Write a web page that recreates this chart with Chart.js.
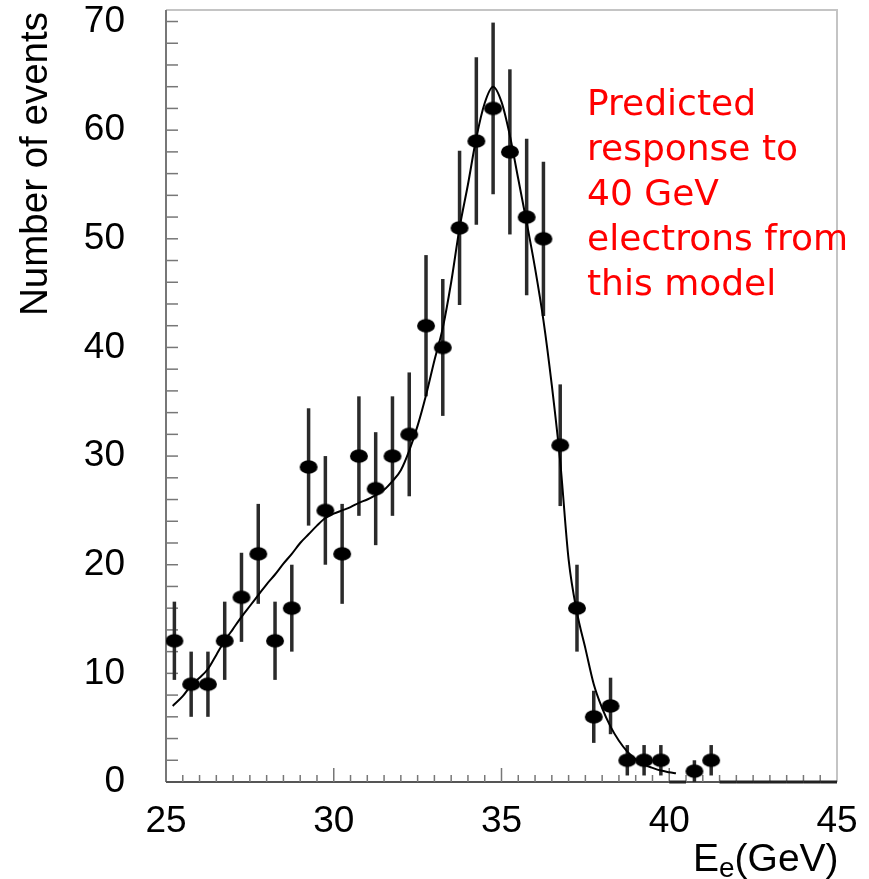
<!DOCTYPE html>
<html lang="en">
<head>
<meta charset="UTF-8">
<title>Number of events</title>
<script src="https://cdn.jsdelivr.net/npm/chart.js"></script>
<style>
  html, body { margin: 0; padding: 0; background: #fff; }
</style>
</head>
<body>
<canvas id="grafico" width="869" height="879"></canvas>
<script>
// medidas (centro do bin em GeV) e numero de eventos
const energias = [25.25, 25.75, 26.25, 26.75, 27.25, 27.75, 28.25, 28.75, 29.25, 29.75,
                  30.25, 30.75, 31.25, 31.75, 32.25, 32.75, 33.25, 33.75, 34.25, 34.75,
                  35.25, 35.75, 36.25, 36.75, 37.25, 37.75, 38.25, 38.75, 39.25, 39.75,
                  40.75, 41.25];
const eventos = [13, 9, 9, 13, 17, 21, 13, 16, 29, 25,
                 21, 30, 27, 30, 32, 42, 40, 51, 59, 62,
                 58, 52, 50, 31, 16, 6, 7, 2, 2, 2,
                 1, 2];
const erros = [3.6, 3.0, 3.0, 3.6, 4.1, 4.6, 3.6, 4.0, 5.4, 5.0,
               4.6, 5.5, 5.2, 5.5, 5.7, 6.5, 6.3, 7.1, 7.7, 7.9,
               7.6, 7.2, 7.1, 5.6, 4.0, 2.4, 2.6, 1.4, 1.4, 1.4,
               1.0, 1.4];
// bins vazios (desenhados como traco em zero)
const binsVazios = [40.25, 41.75, 42.25, 42.75, 43.25, 43.75, 44.25, 44.75];

// curva do modelo
const curvaX = [25.2, 25.5, 25.75, 26.0, 26.25, 26.5, 26.75, 27.0, 27.25, 27.5,
                27.75, 28.0, 28.25, 28.5, 28.75, 29.0, 29.25, 29.5, 29.75, 30.0,
                30.25, 30.5, 30.75, 31.0, 31.25, 31.5, 31.75, 32.0, 32.25, 32.5,
                32.75, 33.0, 33.25, 33.5, 33.75, 34.0, 34.25, 34.5, 34.75, 35.0,
                35.25, 35.5, 35.75, 36.0, 36.25, 36.5, 36.75, 37.0, 37.25, 37.5,
                37.75, 38.0, 38.25, 38.5, 38.75, 39.0, 39.25, 39.5, 39.75, 40.0, 40.2];
const curvaY = [7.0, 7.9, 8.9, 9.6, 10.4, 11.7, 13.0, 14.1, 15.2, 16.2,
                17.2, 18.2, 19.1, 20.1, 21.0, 22.0, 22.8, 23.6, 24.3, 24.7,
                25.0, 25.3, 25.7, 26.0, 26.4, 26.9, 27.7, 28.7, 30.5, 32.8,
                35.6, 38.8, 41.8, 46.0, 51.0, 55.0, 59.3, 62.5, 64.0, 62.6,
                59.5, 55.5, 51.5, 47.3, 42.5, 36.5, 29.5, 20.5, 15.6, 12.3,
                9.0, 6.8, 5.1, 3.8, 2.8, 2.1, 1.6, 1.3, 1.05, 0.9, 0.8];

const ticksX = [25, 30, 35, 40, 45];
const ticksY = [0, 10, 20, 30, 40, 50, 60, 70];

const textoModelo = ['Predicted', 'response to', '40 GeV', 'electrons from', 'this model'];

// marcador elipse
const marcador = document.createElement('canvas');
marcador.width = 20; marcador.height = 16;
(function () {
    const c = marcador.getContext('2d');
    c.fillStyle = '#000';
    c.beginPath();
    c.ellipse(10, 8, 9, 6.8, 0, 0, Math.PI * 2);
    c.fill();
})();

const pontos = energias.map((e, i) => ({ x: e, y: eventos[i] }));
const curva = curvaX.map((e, i) => ({ x: e, y: curvaY[i] }));

const moldura = {
    id: 'moldura',
    beforeDatasetsDraw(chart) {
        const ctx = chart.ctx;
        const a = chart.chartArea;
        const sx = chart.scales.x, sy = chart.scales.y;
        ctx.save();
        // borda clara em cima e direita
        ctx.strokeStyle = '#c4c4c4';
        ctx.lineWidth = 2;
        ctx.beginPath();
        ctx.moveTo(a.left, a.top); ctx.lineTo(a.right, a.top); ctx.lineTo(a.right, a.bottom);
        ctx.stroke();
        // eixos
        ctx.strokeStyle = '#777';
        ctx.beginPath();
        ctx.moveTo(a.left, a.top); ctx.lineTo(a.left, a.bottom);
        ctx.stroke();
        ctx.strokeStyle = '#555';
        ctx.beginPath();
        ctx.moveTo(a.left, a.bottom); ctx.lineTo(a.right, a.bottom);
        ctx.stroke();
        // ticks para dentro
        ctx.lineWidth = 1.5;
        ctx.strokeStyle = '#777';
        for (let v = 2; v <= 70; v += 2) {
            const py = sy.getPixelForValue(v);
            ctx.beginPath(); ctx.moveTo(a.left, py); ctx.lineTo(a.left + 12, py); ctx.stroke();
        }
        for (let v = 25.5; v < 45; v += 0.5) {
            const px = sx.getPixelForValue(v);
            const len = (v % 5 === 0) ? 14 : 7;
            ctx.beginPath(); ctx.moveTo(px, a.bottom); ctx.lineTo(px, a.bottom - len); ctx.stroke();
        }
        // bins vazios
        ctx.strokeStyle = '#222';
        ctx.lineWidth = 3;
        binsVazios.forEach(b => {
            const py = sy.getPixelForValue(0);
            ctx.beginPath();
            ctx.moveTo(sx.getPixelForValue(b - 0.25), py);
            ctx.lineTo(sx.getPixelForValue(b + 0.25), py);
            ctx.stroke();
        });
        // barras de erro
        ctx.strokeStyle = '#2a2a2a';
        ctx.lineWidth = 3.5;
        energias.forEach((e, i) => {
            const px = sx.getPixelForValue(e);
            ctx.beginPath();
            ctx.moveTo(px, sy.getPixelForValue(eventos[i] + erros[i]));
            ctx.lineTo(px, sy.getPixelForValue(Math.max(0, eventos[i] - erros[i])));
            ctx.stroke();
        });
        ctx.restore();
    },
    afterDraw(chart) {
        const ctx = chart.ctx;
        ctx.save();
        // titulo eixo y
        ctx.fillStyle = '#000';
        ctx.font = '38.5px "Liberation Sans", Arial, sans-serif';
        ctx.textAlign = 'center';
        ctx.textBaseline = 'alphabetic';
        ctx.translate(47, 164);
        ctx.rotate(-Math.PI / 2);
        ctx.fillText('Number of events', 0, 0);
        ctx.restore();

        // titulo eixo x
        ctx.save();
        ctx.fillStyle = '#000';
        ctx.textAlign = 'left';
        ctx.textBaseline = 'alphabetic';
        let x = 693;
        ctx.font = '39px "Liberation Sans", Arial, sans-serif';
        ctx.fillText('E', x, 871);
        x += ctx.measureText('E').width;
        ctx.font = '28px "Liberation Sans", Arial, sans-serif';
        ctx.fillText('e', x, 877);
        x += ctx.measureText('e').width;
        ctx.font = '39px "Liberation Sans", Arial, sans-serif';
        ctx.fillText('(GeV)', x, 871);

        // texto vermelho
        ctx.fillStyle = '#ff0000';
        ctx.font = '36px "DejaVu Sans", sans-serif';
        textoModelo.forEach((t, i) => {
            ctx.fillText(t, 587, 115 + i * 45);
        });
        ctx.restore();
    }
};

function semPadding(s) {
    s.paddingTop = 0; s.paddingBottom = 0; s.paddingLeft = 0; s.paddingRight = 0;
}

new Chart(document.getElementById('grafico'), {
    type: 'scatter',
    data: {
        datasets: [
            {
                label: 'dados',
                data: pontos,
                pointStyle: marcador,
                pointRadius: 9,
                showLine: false,
                order: 0
            },
            {
                label: 'modelo',
                data: curva,
                showLine: true,
                borderColor: '#000',
                borderWidth: 2,
                pointRadius: 0,
                cubicInterpolationMode: 'monotone',
                order: 1
            }
        ]
    },
    options: {
        responsive: false,
        animation: false,
        devicePixelRatio: 1,
        layout: { padding: { top: 9, right: 32, left: 0, bottom: 0 } },
        plugins: { legend: { display: false }, tooltip: { enabled: false } },
        scales: {
            x: {
                type: 'linear',
                min: 25, max: 45,
                afterFit: (s) => { s.height = 97; semPadding(s); },
                afterBuildTicks: (s) => { s.ticks = ticksX.map(v => ({ value: v })); },
                grid: { display: false, drawTicks: false },
                border: { display: false },
                ticks: {
                    padding: 18,
                    maxRotation: 0,
                    color: '#000',
                    font: { family: '"Liberation Sans", Arial, sans-serif', size: 37 }
                }
            },
            y: {
                min: 0, max: 71.06,
                afterFit: (s) => { s.width = 166; semPadding(s); },
                afterBuildTicks: (s) => { s.ticks = ticksY.map(v => ({ value: v })); },
                grid: { display: false, drawTicks: false },
                border: { display: false },
                ticks: {
                    padding: 41,
                    color: '#000',
                    font: { family: '"Liberation Sans", Arial, sans-serif', size: 37 }
                }
            }
        }
    },
    plugins: [moldura]
});
</script>
</body>
</html>
